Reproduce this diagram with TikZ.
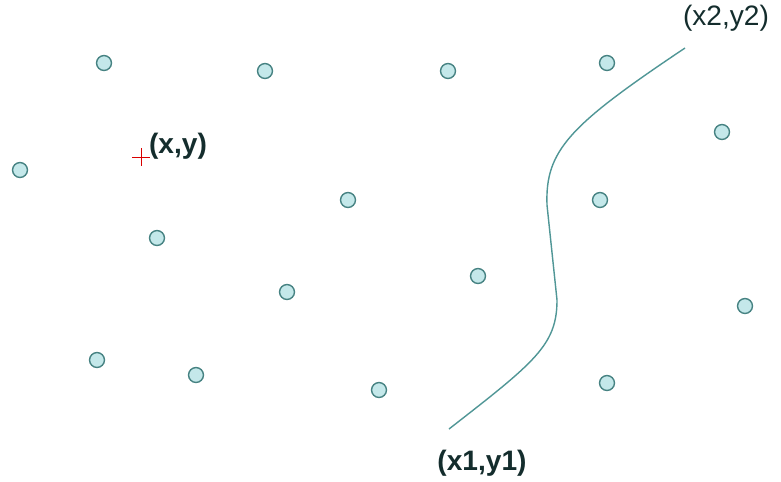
\documentclass[tikz,border=0pt]{standalone}
\usepackage{fontspec}
\setmainfont{Liberation Sans}
\usetikzlibrary{positioning}

\definecolor{dotfill}{RGB}{196,232,234}
\definecolor{dotline}{RGB}{70,130,130}
\definecolor{curveline}{RGB}{80,150,150}
\definecolor{labeltext}{RGB}{20,45,45}

\tikzset{
  site/.style={circle, draw=dotline, fill=dotfill, line width=0.8pt, minimum size=8.5pt, inner sep=0pt},
  ptlabel/.style={text=labeltext, font=\fontsize{16}{19}\selectfont, inner sep=1pt}
}

\begin{document}
\begin{tikzpicture}[x=0.02cm, y=-0.02cm]
  \useasboundingbox (0,0) rectangle (781,481);

  % sites
  \foreach \px/\py [count=\i] in {104/63, 265/71, 448/71, 607/63, 722/132, 20/170,
      348/200, 600/200, 157/238, 478/276, 287/292, 745/306, 97/360, 196/375,
      379/390, 607/383} {
    \node[site] (s\i) at (\px,\py) {};
  }

  % query point
  \coordinate (q) at (141,157);
  \draw[red!85!black, line width=0.5pt] ([xshift=-5]q) -- ([xshift=5]q) ([yshift=-5]q) -- ([yshift=5]q);
  \node[ptlabel, font=\fontsize{16}{19}\selectfont\bfseries, anchor=south west] (ql) at (147,161) {(x,y)};

  % curve
  \coordinate (p1) at (449,429);
  \coordinate (p2) at (685,48);
  \draw[curveline, line width=0.8pt]
    (p1) .. controls (535,362) and (557,345) .. (557,300)
    -- (547,205) .. controls (545,150) and (570,125) .. (p2);
  \node[ptlabel, font=\fontsize{16}{19}\selectfont\bfseries] (l1) at (482,463) {(x1,y1)};
  \node[ptlabel] (l2) at (726,18) {(x2,y2)};
\end{tikzpicture}
\end{document}
